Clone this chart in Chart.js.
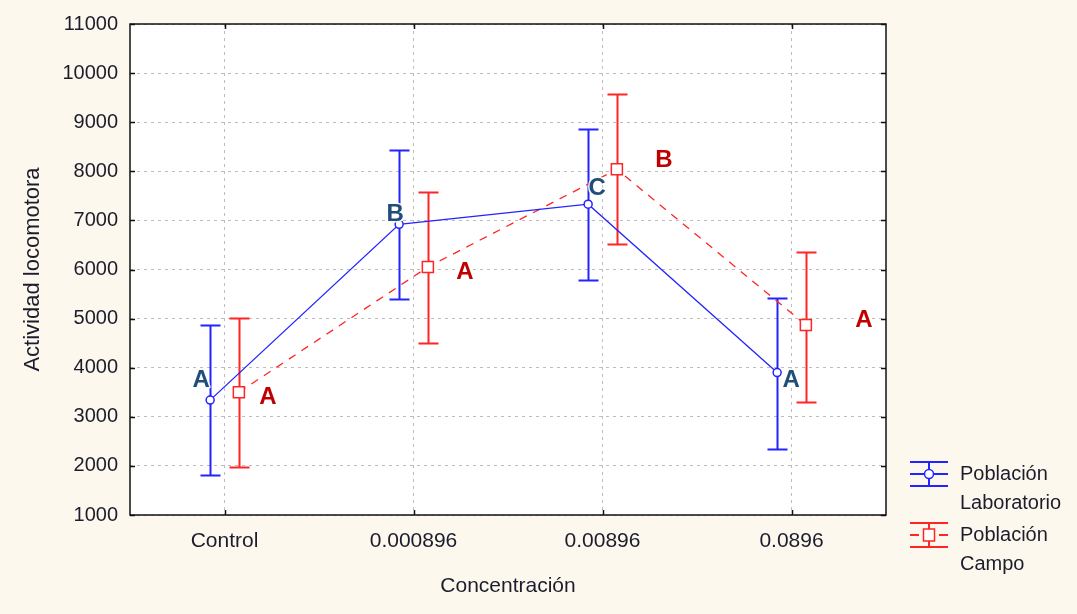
<!DOCTYPE html>
<html lang="es">
<head>
    <meta charset="UTF-8">
    <title>Actividad locomotora por concentración</title>
    <script src="https://cdn.jsdelivr.net/npm/chart.js"></script>
    <style>
        body {
            margin: 0;
            background: #fdf8ee;
        }
        .chart-box {
            width: 1077px;
            height: 614px;
        }
    </style>
</head>
<body>
    <div class="chart-box">
        <canvas id="graficoActividad"></canvas>
    </div>

    <script>
        // datos
        const categorias = ["Control", "0.000896", "0.00896", "0.0896"];
        const yTicks = [1000, 2000, 3000, 4000, 5000, 6000, 7000, 8000, 9000, 10000, 11000];

        const labMedia = [3340, 6920, 7330, 3900];
        const labInf = [1820, 5390, 5790, 2340];
        const labSup = [4870, 8440, 8870, 5420];
        const letrasLab = ["A", "B", "C", "A"];

        const campoMedia = [3500, 6050, 8040, 4870];
        const campoInf = [1980, 4510, 6520, 3300];
        const campoSup = [5020, 7570, 9570, 6360];
        const letrasCampo = ["A", "A", "B", "A"];

        const desplaz = 0.076; // separacion de las dos series dentro de cada categoria

        const AZUL = "#2323ff";
        const ROJO = "#ff2525";
        const TEXTO = "#1c1c2c";
        const FUENTE = "'Liberation Sans', Arial, sans-serif";

        // ajuste fino de las letras respecto a su punto (px)
        const posLetrasLab = [[-9, -20], [-4, -10], [9, -16], [14, 8]];
        const posLetrasCampo = [[29, 5], [37, 5], [47, -9], [58, -5]];

        const toPoints = (vals, off) => vals.map((v, i) => ({ x: i + off, y: v }));

        function barrasError(ctx, xs, ys, inf, sup, off, color) {
            ctx.save();
            ctx.strokeStyle = color;
            ctx.lineWidth = 2;
            inf.forEach((lo, i) => {
                const x = Math.round(xs.getPixelForValue(i + off)) + 0.5;
                const yLo = Math.round(ys.getPixelForValue(lo)) + 0.5;
                const yHi = Math.round(ys.getPixelForValue(sup[i])) + 0.5;
                ctx.beginPath();
                ctx.moveTo(x, yLo); ctx.lineTo(x, yHi);
                ctx.moveTo(x - 10, yLo); ctx.lineTo(x + 10, yLo);
                ctx.moveTo(x - 10, yHi); ctx.lineTo(x + 10, yHi);
                ctx.stroke();
            });
            ctx.restore();
        }

        function letras(ctx, xs, ys, medias, textos, off, ajustes, color) {
            ctx.save();
            ctx.font = "bold 24px " + FUENTE;
            ctx.textAlign = "center";
            ctx.textBaseline = "middle";
            ctx.lineJoin = "round";
            textos.forEach((t, i) => {
                const x = xs.getPixelForValue(i + off) + ajustes[i][0];
                const y = ys.getPixelForValue(medias[i]) + ajustes[i][1];
                ctx.strokeStyle = "rgba(255,255,255,0.9)";
                ctx.lineWidth = 3;
                ctx.strokeText(t, x, y);
                ctx.fillStyle = color;
                ctx.fillText(t, x, y);
            });
            ctx.restore();
        }

        function simboloLeyenda(ctx, x0, yMid, color, tipo) {
            const w = 38, h = 12, xc = x0 + w / 2;
            ctx.save();
            ctx.strokeStyle = color;
            ctx.lineWidth = 2;
            ctx.beginPath();
            ctx.moveTo(x0, yMid - h); ctx.lineTo(x0 + w, yMid - h);
            ctx.moveTo(x0, yMid + h); ctx.lineTo(x0 + w, yMid + h);
            ctx.moveTo(xc, yMid - h); ctx.lineTo(xc, yMid + h);
            if (tipo === "circle") {
                ctx.moveTo(x0, yMid); ctx.lineTo(x0 + w, yMid);
            } else {
                ctx.moveTo(x0, yMid); ctx.lineTo(x0 + 9, yMid);
                ctx.moveTo(x0 + w - 9, yMid); ctx.lineTo(x0 + w, yMid);
            }
            ctx.stroke();
            ctx.fillStyle = "#fff";
            ctx.lineWidth = 1.5;
            ctx.beginPath();
            if (tipo === "circle") {
                ctx.arc(xc, yMid, 4.5, 0, Math.PI * 2);
            } else {
                ctx.rect(xc - 5.5, yMid - 6, 11, 12);
            }
            ctx.fill();
            ctx.stroke();
            ctx.restore();
        }

        const decoracion = {
            id: "decoracion",
            beforeDraw(chart) {
                const { ctx, chartArea: a } = chart;
                ctx.save();
                ctx.fillStyle = "#fdf8ee";
                ctx.fillRect(0, 0, chart.width, chart.height);
                ctx.fillStyle = "#ffffff";
                ctx.fillRect(a.left, a.top, a.right - a.left, a.bottom - a.top);
                ctx.restore();
            },
            beforeDatasetsDraw(chart) {
                const { ctx, scales: { x, y } } = chart;
                barrasError(ctx, x, y, labInf, labSup, -desplaz, AZUL);
                barrasError(ctx, x, y, campoInf, campoSup, desplaz, ROJO);
            },
            afterDraw(chart) {
                const { ctx, chartArea: a, scales: { x, y } } = chart;

                // marco y marcas hacia dentro
                ctx.save();
                ctx.strokeStyle = "#111";
                ctx.lineWidth = 1.5;
                ctx.strokeRect(a.left, a.top, a.right - a.left, a.bottom - a.top);
                ctx.beginPath();
                yTicks.forEach(v => {
                    const py = Math.round(y.getPixelForValue(v)) + 0.5;
                    ctx.moveTo(a.left, py); ctx.lineTo(a.left + 5, py);
                    ctx.moveTo(a.right, py); ctx.lineTo(a.right - 5, py);
                });
                categorias.forEach((c, i) => {
                    const px = Math.round(x.getPixelForValue(i)) + 0.5;
                    ctx.moveTo(px, a.top); ctx.lineTo(px, a.top + 5);
                    ctx.moveTo(px, a.bottom); ctx.lineTo(px, a.bottom - 5);
                });
                ctx.stroke();
                ctx.restore();

                letras(ctx, x, y, labMedia, letrasLab, -desplaz, posLetrasLab, "#1f4e79");
                letras(ctx, x, y, campoMedia, letrasCampo, desplaz, posLetrasCampo, "#c00000");

                // leyenda
                const lx = a.right + 24;
                simboloLeyenda(ctx, lx, a.bottom - 41, AZUL, "circle");
                simboloLeyenda(ctx, lx, a.bottom + 20, ROJO, "rect");
                ctx.save();
                ctx.fillStyle = TEXTO;
                ctx.font = "20px " + FUENTE;
                ctx.textBaseline = "middle";
                ctx.fillText("Población", lx + 50, a.bottom - 41);
                ctx.fillText("Laboratorio", lx + 50, a.bottom - 12);
                ctx.fillText("Población", lx + 50, a.bottom + 20);
                ctx.fillText("Campo", lx + 50, a.bottom + 49);
                ctx.restore();
            }
        };

        new Chart(document.getElementById("graficoActividad"), {
            type: "line",
            data: {
                datasets: [
                    {
                        label: "Población Laboratorio",
                        data: toPoints(labMedia, -desplaz),
                        borderColor: AZUL,
                        borderWidth: 1.3,
                        pointStyle: "circle",
                        pointRadius: 4,
                        pointBorderWidth: 1.5,
                        pointBackgroundColor: "#fff",
                        pointBorderColor: AZUL
                    },
                    {
                        label: "Población Campo",
                        data: toPoints(campoMedia, desplaz),
                        borderColor: ROJO,
                        borderWidth: 1.3,
                        borderDash: [8, 7],
                        pointStyle: "rect",
                        pointRadius: 7.8,
                        pointBorderWidth: 1.5,
                        pointBackgroundColor: "#fff",
                        pointBorderColor: ROJO
                    }
                ]
            },
            options: {
                responsive: true,
                maintainAspectRatio: false,
                animation: false,
                layout: {
                    padding: { top: 22, right: 191, bottom: 0, left: 0 }
                },
                plugins: {
                    legend: { display: false },
                    tooltip: { enabled: false }
                },
                scales: {
                    x: {
                        type: "linear",
                        min: -0.5,
                        max: 3.5,
                        afterBuildTicks: s => { s.ticks = categorias.map((c, i) => ({ value: i })); },
                        afterFit: s => { s.height = 99; },
                        ticks: {
                            callback: v => categorias[v],
                            color: TEXTO,
                            font: { family: FUENTE, size: 21 },
                            padding: 14,
                            maxRotation: 0
                        },
                        grid: { color: "#bdbdbd", lineWidth: 1, drawTicks: false },
                        border: { display: false, dash: [3, 4] },
                        title: {
                            display: true,
                            text: "Concentración",
                            color: TEXTO,
                            font: { family: FUENTE, size: 21 },
                            padding: { top: 0, bottom: 15 }
                        }
                    },
                    y: {
                        min: 1000,
                        max: 11000,
                        afterBuildTicks: s => { s.ticks = yTicks.map(v => ({ value: v })); },
                        afterFit: s => { s.width = 130; },
                        ticks: {
                            callback: v => String(v),
                            color: TEXTO,
                            font: { family: FUENTE, size: 20 },
                            padding: 12
                        },
                        grid: { color: "#bdbdbd", lineWidth: 1, drawTicks: false },
                        border: { display: false, dash: [3, 4] },
                        title: {
                            display: true,
                            text: "Actividad locomotora",
                            color: TEXTO,
                            font: { family: FUENTE, size: 22 },
                            padding: { top: 20, bottom: 0 }
                        }
                    }
                }
            },
            plugins: [decoracion]
        });
    </script>
</body>
</html>
